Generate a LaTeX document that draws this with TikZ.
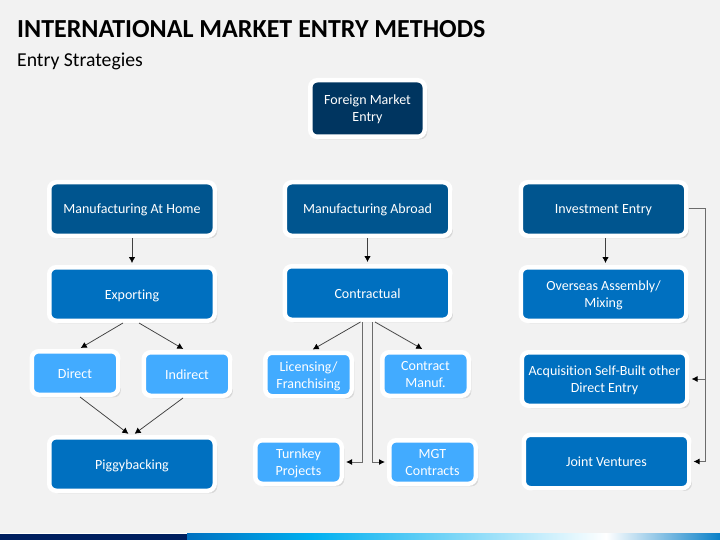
\documentclass[tikz,border=0pt]{standalone}
\usepackage{fontspec}
\setmainfont[Ligatures=NoCommon]{Carlito}
\usetikzlibrary{arrows.meta,shadows,calc}
\definecolor{pagebg}{HTML}{F2F2F2}
\definecolor{topblue}{HTML}{003560}
\definecolor{headblue}{HTML}{00558F}
\definecolor{midblue}{HTML}{0070C0}
\definecolor{lightblue}{HTML}{42ABFF}
\definecolor{navy}{HTML}{002060}
\definecolor{skyblue}{HTML}{00B0F0}
\definecolor{endblue}{HTML}{0A80C8}
\definecolor{connline}{HTML}{404040}
\newcommand\firstline{\rule{0pt}{14pt}}
\newcommand\lastline{\rule[-4pt]{0pt}{4pt}}
\tikzset{
  softshadow/.style={
    general shadow={shadow xshift=2.6pt,shadow yshift=-2.6pt,fill=black,opacity=.10},
    general shadow={shadow xshift=1.6pt,shadow yshift=-1.6pt,fill=black,opacity=.22}},
  boxbase/.style={draw=white,line width=4.5pt,rounded corners=7pt,text=white,align=center,
    inner sep=0pt,font=\fontsize{14}{17}\selectfont,softshadow},
  bigbox/.style={boxbase,minimum width=165.5pt,minimum height=53.5pt},
  smallbox/.style={boxbase,fill=lightblue,minimum width=86.5pt,minimum height=43.5pt},
  topbox/.style={boxbase,fill=topblue,minimum width=114.5pt,minimum height=56.5pt},
  headbox/.style={bigbox,fill=headblue},
  midbox/.style={bigbox,fill=midblue},
  conn/.style={draw=connline,line width=.75pt,-{Latex[length=6pt,width=6.5pt,color=black]},shorten >=2pt},
  railconn/.style={draw=gray!85!black,line width=1pt,-{Latex[length=6pt,width=6pt,color=black]},shorten >=2pt}
}
\begin{document}
\begin{tikzpicture}[x=1pt,y=-1pt]
\useasboundingbox (0,0) rectangle (720,540);
\fill[pagebg] (0,0) rectangle (720,540);
% footer band
\fill[white] (0,532.5) rectangle (187,534);
\fill[navy] (0,533.5) rectangle (187.5,540);
\shade[left color=midblue,right color=skyblue,shading angle=90] (187,533.5) rectangle (312.5,540);
\shade[left color=skyblue,right color=white,shading angle=90] (312,533.5) rectangle (606.5,540);
\shade[left color=white,right color=endblue,shading angle=90] (606,533.5) rectangle (720,540);
% title
\node[anchor=base west,inner sep=0pt,font=\fontsize{26}{30}\selectfont\bfseries] (title) at (17,38) {INTERNATIONAL MARKET ENTRY METHODS};
\node[anchor=base west,inner sep=0pt,font=\fontsize{19.7}{23}\selectfont] (sub) at (17,67) {Entry Strategies};
% boxes
\node[topbox] (top) at (367.5,108.5) {\firstline Foreign Market\\Entry\lastline};
\node[headbox] (home) at (132,209) {\firstline Manufacturing At Home\lastline};
\node[midbox] (exp) at (132,294) {\firstline Exporting\lastline};
\node[smallbox] (dir) at (75,373) {\firstline Direct\lastline};
\node[smallbox] (ind) at (187,374) {\firstline Indirect\lastline};
\node[midbox] (pig) at (132,464) {\firstline Piggybacking\lastline};
\node[headbox] (abr) at (367.5,209) {\firstline Manufacturing Abroad\lastline};
\node[midbox] (con) at (367.5,293) {\firstline Contractual\lastline};
\node[smallbox] (lic) at (308.5,374.5) {\firstline Licensing/\\Franchising\lastline};
\node[smallbox] (man) at (425.5,374) {\firstline Contract\\Manuf.\lastline};
\node[smallbox] (tur) at (298.5,462) {\firstline Turnkey\\Projects\lastline};
\node[smallbox] (mgt) at (432.5,462) {\firstline MGT\\Contracts\lastline};
\node[headbox] (inv) at (603.5,209) {\firstline Investment Entry\lastline};
\node[midbox] (ove) at (603.5,294) {\firstline Overseas Assembly/\\Mixing\lastline};
\node[midbox] (acq) at (604.5,379) {\firstline Acquisition Self-Built other\\Direct Entry\lastline};
\node[midbox] (joi) at (606.5,461.5) {\firstline Joint Ventures\lastline};
% connectors
\draw[conn] (home.south) -- (exp.north);
\draw[conn] (abr.south) -- (con.north);
\draw[conn] ($(inv.south)+(2,0)$) -- ($(ove.north)+(2,0)$);
\draw[conn] ($(exp.south)+(-9,0)$) -- ($(dir.north)+(4,0)$);
\draw[conn] ($(exp.south)+(7,0)$) -- ($(ind.north)+(-2,0)$);
\draw[conn] ($(dir.south)+(5,0)$) -- ($(pig.north)+(-2,0)$);
\draw[conn] ($(ind.south)+(-4,0)$) -- ($(pig.north)+(1,0)$);
\draw[conn] ($(con.south)+(-7,0)$) -- ($(lic.north)+(2.5,0)$);
\draw[conn] ($(con.south)+(7.5,0)$) -- ($(man.north)+(-1.5,0)$);
\draw[railconn] ($(con.south)+(-5,0)$) |- (tur.east);
\draw[railconn] ($(con.south)+(5,0)$) |- (mgt.west);
\coordinate (rail) at (705.7,300);
\draw[railconn] (inv.east) -| (rail) |- (acq.east);
\draw[railconn] (inv.east) -| (rail) |- (joi.east);
\end{tikzpicture}
\end{document}
